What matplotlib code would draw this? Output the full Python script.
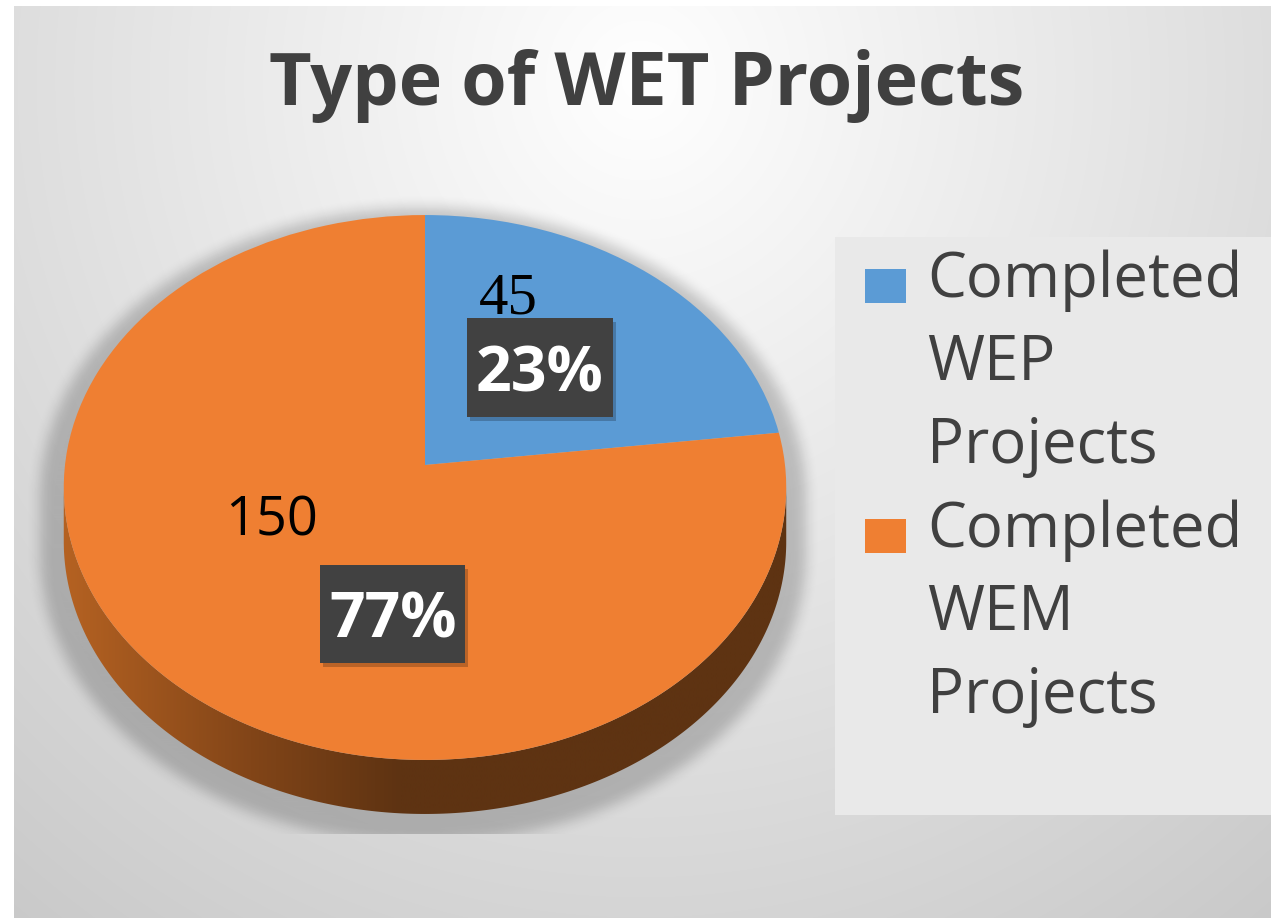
import numpy as np
import matplotlib
matplotlib.use("Agg")
import matplotlib.pyplot as plt
from matplotlib.transforms import Transform
from matplotlib.path import Path
from matplotlib.patches import Rectangle, Polygon

# ---------------- data ----------------
title = "Type of WET Projects"
categories = ["Completed\nWEP\nProjects", "Completed\nWEM\nProjects"]
values = [45, 150]
colors = ["#5b9bd5", "#ef7f32"]

# ---------------- figure ----------------
W, H = 1271, 918
fig = plt.figure(figsize=(W / 100, H / 100), dpi=100, facecolor="white")
ax = fig.add_axes([0, 0, 1, 1])

# background radial gradient (white strip at left/top edges)
X0, Y0 = 14, 6
yy, xx = np.mgrid[Y0:H, X0:W].astype(float)
r = np.sqrt(((xx - 640) / 900.0) ** 2 + ((yy - 80) / 950.0) ** 2)
val = np.clip(1 - 0.187 * r, 0, 1)
bg = np.dstack([val, val, val])
ax.imshow(bg, extent=(X0, W, H, Y0), origin="upper", zorder=0, interpolation="bilinear")

# ---------------- perspective pie geometry ----------------
CX, CY = 425.0, 465.0
RX, RY, S = 360.0, 270.6, 0.0826
DEPTH = 54.0


class Perspective(Transform):
    input_dims = 2
    output_dims = 2
    is_separable = False
    has_inverse = False

    def transform_non_affine(self, values):
        v = np.asarray(values, dtype=float)
        den = 1.0 + S * v[:, 1]
        return np.column_stack([CX + RX * v[:, 0] / den, CY - RY * v[:, 1] / den])


persp = Perspective()


def rim(th):
    return persp.transform_non_affine(np.column_stack([np.cos(th), np.sin(th)]))


th_all = np.linspace(0, 2 * np.pi, 7200, endpoint=False)
pts_all = rim(th_all)
thL = th_all[np.argmin(pts_all[:, 0])]
thR = th_all[np.argmax(pts_all[:, 0])]
if thR < np.pi:
    thR += 2 * np.pi
front = np.linspace(thL, thR, 900)
upper = rim(front)
lower = upper + np.array([0, DEPTH])
side_poly = np.vstack([upper, lower[::-1]])
back = np.linspace(thR - 2 * np.pi, thL, 900)
silhouette = np.vstack([rim(back), lower])

# soft shadow
sh = silhouette.copy()
ax0, ay0, k = 425.0, 300.0, 1.06
sh[:, 0] = ax0 + (sh[:, 0] - ax0) * k
sh[:, 1] = ay0 + (sh[:, 1] - ay0) * k
gy, gx = np.mgrid[0:H, 0:W]
mask = Path(sh).contains_points(np.column_stack([gx.ravel() + 0.5, gy.ravel() + 0.5])).reshape(H, W).astype(float)


def box_blur(a, n):
    for axis in (0, 1):
        c = np.cumsum(np.pad(a, [(n, n + 1) if i == axis else (0, 0) for i in range(2)], mode="edge"), axis=axis)
        if axis == 0:
            a = (c[2 * n + 1:, :] - c[:-2 * n - 1, :]) / (2 * n + 1)
        else:
            a = (c[:, 2 * n + 1:] - c[:, :-2 * n - 1]) / (2 * n + 1)
    return a


mask = box_blur(box_blur(mask, 7), 7)
mask[834:, :] = 0
shadow = np.zeros((H, W, 4))
shadow[..., 3] = mask * 0.2
ax.imshow(shadow, extent=(0, W, H, 0), origin="upper", zorder=1, interpolation="bilinear")

# side of the pie (orange slice side, horizontal gradient)
side_patch = Polygon(side_poly, closed=True, facecolor="none", edgecolor="none", transform=ax.transData)
ax.add_patch(side_patch)
gxs = np.linspace(0, W, 600)
c1 = np.array([0xb5, 0x62, 0x22]) / 255
c2 = np.array([0x82, 0x45, 0x18]) / 255
c3 = np.array([0x5e, 0x33, 0x12]) / 255
t1 = np.clip((gxs - 63) / (250 - 63), 0, 1)[:, None]
t2 = np.clip((gxs - 250) / (400 - 250), 0, 1)[:, None]
grad = np.where(gxs[:, None] < 250, c1 * (1 - t1) + c2 * t1, c2 * (1 - t2) + c3 * t2)
grad_img = np.repeat(grad[None, :, :], 2, axis=0)
im_side = ax.imshow(grad_img, extent=(0, W, H, 0), origin="upper", zorder=2, interpolation="bilinear", aspect="auto")
im_side.set_clip_path(side_patch)

# top face: pie wedges through a perspective transform
wedges, texts = ax.pie(values, colors=colors, startangle=90, counterclock=False, radius=1.0, center=(0, 0))
for t in texts:
    t.remove()
for w in wedges:
    w.set_transform(persp + ax.transData)
    w.set_zorder(3)
    w.set_linewidth(0)

ax.set_aspect("auto")
ax.set_xlim(0, W)
ax.set_ylim(H, 0)
ax.axis("off")

# ---------------- labels ----------------
total = sum(values)
pcts = ["{:d}%".format(int(round(100 * v / total))) for v in values]

# value labels
ax.text(508, 313, str(values[0]), ha="center", va="baseline", fontsize=42.5,
        family="Liberation Serif", color="black", zorder=6)
ax.text(272, 535, str(values[1]), ha="center", va="baseline", fontsize=39,
        family="Open Sans", color="black", zorder=6)

# percentage boxes
boxes = [(467, 318, 146, 99), (320, 565, 145, 98)]
pct_pos = [(540, 392), (393, 637)]
for (bx, by, bw, bh), (px, py), p in zip(boxes, pct_pos, pcts):
    ax.add_patch(Rectangle((bx + 3, by + 4), bw, bh, facecolor="black", alpha=0.22, edgecolor="none", zorder=4))
    ax.add_patch(Rectangle((bx, by), bw, bh, facecolor="#414141", edgecolor="none", zorder=5))
    ax.text(px, py, p, ha="center", va="baseline", fontsize=45, family="Open Sans",
            fontweight="bold", color="white", zorder=6)

# title
ax.text(647, 105, title, ha="center", va="baseline", fontsize=53, family="Open Sans",
        fontweight="bold", color="#404040", zorder=6)

# legend (manual)
ax.add_patch(Rectangle((835, 237), W - 835, 815 - 237, facecolor="#e9e9e9", edgecolor="none", zorder=4))
leg_sq_y = [269, 519]
leg_txt_last_baseline = [463, 713]
for c, lab, sy, ty in zip(colors, categories, leg_sq_y, leg_txt_last_baseline):
    ax.add_patch(Rectangle((865, sy), 41, 34, facecolor=c, edgecolor="none", zorder=5))
    ax.text(927, ty, lab, ha="left", va="baseline", fontsize=44.5, family="Open Sans",
            color="#404040", linespacing=1.43, zorder=6)

fig.savefig("out.png", dpi=100, facecolor="white")
